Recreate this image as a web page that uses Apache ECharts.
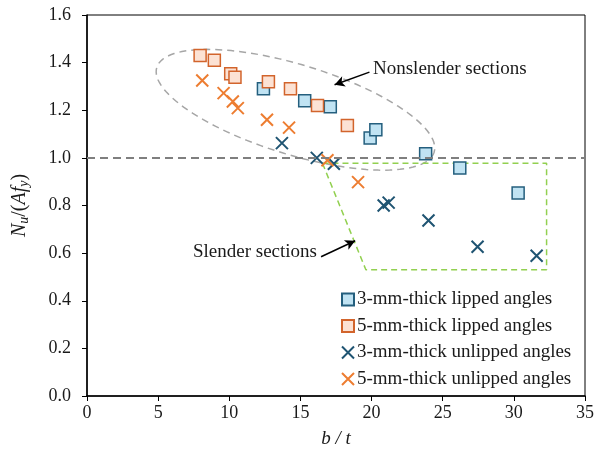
<!DOCTYPE html>
<html>
<head>
<meta charset="utf-8">
<script src="https://cdn.jsdelivr.net/npm/echarts@6/dist/echarts.min.js"></script>
<style>
  html, body { margin: 0; padding: 0; background: #fff; }
  #chart { width: 597px; height: 454px; }
</style>
</head>
<body>
<div id="chart"></div>
<script>
// b/t and Nu/(A fy)
const lipped3 = [
  [12.4, 1.29], [15.3, 1.24], [17.1, 1.215], [19.9, 1.083],
  [20.3, 1.118], [23.8, 1.017], [26.2, 0.957], [30.3, 0.852]
]
const lipped5 = [
  [7.95, 1.43], [8.95, 1.41], [10.1, 1.353], [10.4, 1.339],
  [12.75, 1.32], [14.3, 1.29], [16.2, 1.22], [18.3, 1.136]
]
const unlipped3 = [
  [13.7, 1.062], [16.15, 1.0], [17.35, 0.975], [20.85, 0.8],
  [21.2, 0.812], [24.0, 0.737], [27.45, 0.627], [31.6, 0.589]
]
const unlipped5 = [
  [8.1, 1.325], [9.6, 1.272], [10.25, 1.237], [10.6, 1.209],
  [12.65, 1.16], [14.2, 1.127], [16.9, 0.99], [19.05, 0.898]
]
const yTicks = [0, 0.2, 0.4, 0.6, 0.8, 1.0, 1.2, 1.4, 1.6]

// annotation shapes
const slenderBox = [[16.55, 0.977], [32.3, 0.977], [32.3, 0.53], [19.6, 0.53], [16.55, 0.977]]
const ellipseCenter = [14.65, 1.202]
const nonslenderArrow = [[19.85, 1.36], [17.4, 1.307]]
const slenderArrow = [[16.45, 0.585], [18.85, 0.652]]

const FONT = '"Liberation Serif", "Times New Roman", serif'
const TXT = '#1a1a1a'
const crossPath = 'path://M0,0L10,10M10,0L0,10'

const chart = echarts.init(document.getElementById('chart'))

// dashed ellipse round the nonslender points, drawn in pixel space
function ellipseItem(params, api) {
  const c = api.coord(ellipseCenter)
  const a = 145, b = 45, ang = 17 * Math.PI / 180
  const pts = []
  for (let i = 0; i <= 120; i++) {
    const t = (i / 120) * Math.PI * 2
    const u = a * Math.cos(t), v = b * Math.sin(t)
    pts.push([c[0] + u * Math.cos(ang) - v * Math.sin(ang), c[1] + u * Math.sin(ang) + v * Math.cos(ang)])
  }
  return {
    type: 'polygon',
    shape: { points: pts },
    style: { fill: 'none', stroke: '#a6a6a6', lineWidth: 1.5, lineDash: [7, 5] },
    silent: true,
  }
}

const options = {
  animation: false,
  textStyle: { fontFamily: FONT },
  grid: {
    left: 87, right: 12, top: 15, bottom: 58,
    show: true, borderColor: '#000', borderWidth: 1,
  },
  legend: {
    orient: 'vertical',
    left: 336, top: 285,
    itemWidth: 12, itemHeight: 12, itemGap: 7.5,
    data: ['3-mm-thick lipped angles', '5-mm-thick lipped angles', '3-mm-thick unlipped angles', '5-mm-thick unlipped angles'],
    textStyle: { fontFamily: FONT, fontSize: 19, lineHeight: 19, color: TXT, padding: [0, 0, 0, -2] },
  },
  xAxis: {
    type: 'value', min: 0, max: 35, interval: 5,
    name: 'b / t', nameLocation: 'middle', nameGap: 33,
    nameTextStyle: { fontFamily: FONT, fontSize: 19, fontStyle: 'italic', color: TXT },
    axisLine: { lineStyle: { color: '#000', width: 1.5 } },
    axisTick: { inside: false, length: 5, lineStyle: { color: '#000' } },
    axisLabel: { fontFamily: FONT, fontSize: 18, color: TXT, margin: 8 },
    splitLine: { show: false },
  },
  yAxis: {
    type: 'value', min: 0, max: 1.6, interval: 0.2,
    name: '{i|N}{s|u}{n|/(}{i|Af}{s|y}{n|)}', nameLocation: 'middle', nameGap: 56, nameRotate: 90,
    nameTextStyle: {
      fontFamily: FONT, fontSize: 20, color: TXT,
      rich: {
        i: { fontFamily: FONT, fontSize: 20, fontStyle: 'italic', color: TXT },
        n: { fontFamily: FONT, fontSize: 20, color: TXT },
        s: { fontFamily: FONT, fontSize: 14, fontStyle: 'italic', color: TXT, verticalAlign: 'bottom', padding: [8, 0, 0, 0] },
      },
    },
    axisLine: { show: true, lineStyle: { color: '#000', width: 1.5 } },
    axisTick: { inside: false, length: 5, lineStyle: { color: '#000' } },
    axisLabel: {
      fontFamily: FONT, fontSize: 18, color: TXT, margin: 16,
      formatter: (v) => yTicks.includes(Math.round(v * 10) / 10) ? v.toFixed(1) : '',
    },
    splitLine: { show: false },
  },
  graphic: [
    { type: 'text', left: 373, top: 60, style: { text: 'Nonslender sections', fontFamily: FONT, fontSize: 19, fill: TXT } },
    { type: 'text', left: 193, top: 243, style: { text: 'Slender sections', fontFamily: FONT, fontSize: 19, fill: TXT } },
  ],
  series: [
    {
      type: 'custom', name: 'ellipse', data: [ellipseCenter], renderItem: ellipseItem, z: 1, silent: true,
    },
    {
      type: 'line', name: 'slender', data: slenderBox, showSymbol: false, symbol: 'none', z: 1, silent: true,
      lineStyle: { color: '#92d050', width: 1.5, type: [6, 4] },
      markLine: {
        silent: true, symbol: ['none', 'arrow'], symbolSize: [8, 10],
        label: { show: false },
        lineStyle: { color: '#000', width: 1.5, type: 'solid' },
        data: [
          [{ coord: nonslenderArrow[0] }, { coord: nonslenderArrow[1] }],
          [{ coord: slenderArrow[0] }, { coord: slenderArrow[1] }],
        ],
      },
    },
    {
      type: 'line', name: 'limit', data: [], z: 2, silent: true,
      markLine: {
        silent: true, symbol: ['none', 'none'], label: { show: false },
        lineStyle: { color: '#7f7f7f', width: 2, type: [8, 5] },
        data: [{ yAxis: 1.0 }],
      },
    },
    {
      type: 'scatter', name: '3-mm-thick lipped angles', data: lipped3, z: 3,
      symbol: 'rect', symbolSize: 12,
      itemStyle: { color: '#c0e3f3', borderColor: '#245f7e', borderWidth: 1.5, opacity: 1 },
    },
    {
      type: 'scatter', name: '5-mm-thick lipped angles', data: lipped5, z: 3,
      symbol: 'rect', symbolSize: 12,
      itemStyle: { color: '#fce2d4', borderColor: '#d2642c', borderWidth: 1.5, opacity: 1 },
    },
    {
      type: 'scatter', name: '3-mm-thick unlipped angles', data: unlipped3, z: 3,
      symbol: crossPath, symbolSize: 12,
      itemStyle: { color: 'transparent', borderColor: '#1f5472', borderWidth: 2, opacity: 1 },
    },
    {
      type: 'scatter', name: '5-mm-thick unlipped angles', data: unlipped5, z: 3,
      symbol: crossPath, symbolSize: 12,
      itemStyle: { color: 'transparent', borderColor: '#ed7d31', borderWidth: 2, opacity: 1 },
    },
  ],
}

chart.setOption(options)
</script>
</body>
</html>
